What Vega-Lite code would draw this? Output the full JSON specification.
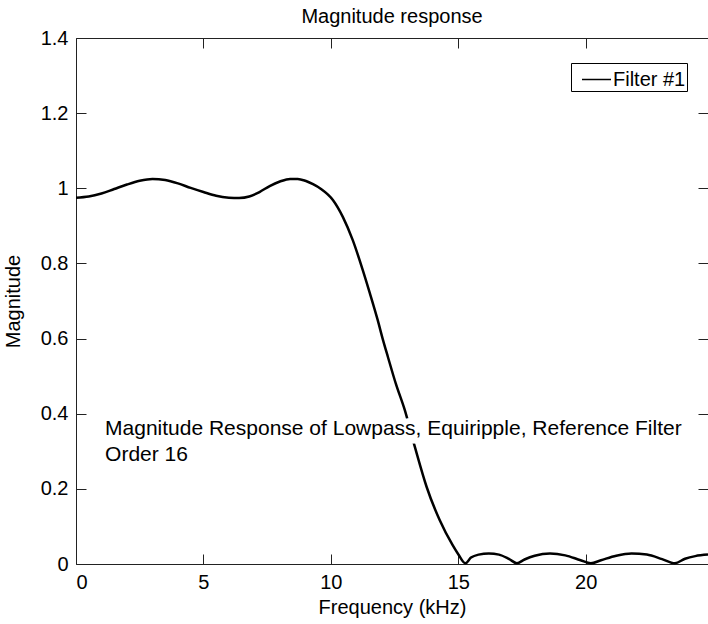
{
  "$schema": "https://vega.github.io/schema/vega-lite/v6.json",
  "width": 632,
  "height": 526,
  "autosize": {"type": "none"},
  "padding": {"left": 76, "top": 38, "right": 0, "bottom": 60},
  "background": "white",
  "config": {
    "font": "Liberation Sans",
    "view": {"stroke": null},
    "axis": {
      "grid": false,
      "domainColor": "#222222",
      "tickColor": "#222222",
      "domainWidth": 1,
      "tickWidth": 1,
      "tickSize": -10,
      "labelColor": "black",
      "labelFontSize": 20,
      "titleFontSize": 20,
      "titleFontWeight": "normal",
      "titleColor": "black"
    }
  },
  "title": {"text": "Magnitude response", "fontSize": 20, "fontWeight": "normal", "color": "black", "offset": 1, "anchor": "middle"},
  "datasets": {
    "response": [
      {"f": 0, "mag": 0.975}, {"f": 0.5, "mag": 0.978}, {"f": 1.0, "mag": 0.986}, {"f": 1.5, "mag": 0.998},
      {"f": 2.0, "mag": 1.010}, {"f": 2.5, "mag": 1.020}, {"f": 3.0, "mag": 1.025}, {"f": 3.5, "mag": 1.022},
      {"f": 4.0, "mag": 1.013}, {"f": 4.5, "mag": 1.001}, {"f": 5.0, "mag": 0.990}, {"f": 5.5, "mag": 0.980},
      {"f": 6.0, "mag": 0.975}, {"f": 6.4, "mag": 0.974}, {"f": 6.8, "mag": 0.978}, {"f": 7.2, "mag": 0.990},
      {"f": 7.6, "mag": 1.006}, {"f": 8.0, "mag": 1.018}, {"f": 8.4, "mag": 1.025}, {"f": 8.7, "mag": 1.025},
      {"f": 9.0, "mag": 1.020}, {"f": 9.3, "mag": 1.011}, {"f": 9.6, "mag": 0.999}, {"f": 10.08, "mag": 0.969},
      {"f": 10.47, "mag": 0.924}, {"f": 10.86, "mag": 0.862}, {"f": 11.25, "mag": 0.783}, {"f": 11.53, "mag": 0.721},
      {"f": 11.84, "mag": 0.649}, {"f": 12.04, "mag": 0.598}, {"f": 12.24, "mag": 0.551}, {"f": 12.55, "mag": 0.48},
      {"f": 12.9, "mag": 0.41}, {"f": 13.3, "mag": 0.311}, {"f": 13.76, "mag": 0.205}, {"f": 14.27, "mag": 0.117},
      {"f": 14.78, "mag": 0.05}, {"f": 15.0, "mag": 0.026}, {"f": 15.28, "mag": 0.002},
      {"f": 15.5, "mag": 0.017}, {"f": 15.8, "mag": 0.025}, {"f": 16.2, "mag": 0.028}, {"f": 16.6, "mag": 0.025},
      {"f": 17.0, "mag": 0.013}, {"f": 17.3, "mag": 0.002}, {"f": 17.6, "mag": 0.012}, {"f": 18.0, "mag": 0.022},
      {"f": 18.6, "mag": 0.028}, {"f": 19.2, "mag": 0.023}, {"f": 19.8, "mag": 0.01}, {"f": 20.2, "mag": 0.002},
      {"f": 20.6, "mag": 0.01}, {"f": 21.2, "mag": 0.022}, {"f": 21.8, "mag": 0.028}, {"f": 22.4, "mag": 0.025},
      {"f": 23.0, "mag": 0.013}, {"f": 23.5, "mag": 0.002}, {"f": 23.9, "mag": 0.014}, {"f": 24.3, "mag": 0.021},
      {"f": 24.8, "mag": 0.025}
    ],
    "note": [
      {"f": 1.14, "mag": 0.343, "label": "Magnitude Response of Lowpass, Equiripple, Reference Filter\nOrder 16"}
    ]
  },
  "layer": [
    {
      "data": {"name": "response"},
      "mark": {"type": "line", "strokeWidth": 2.5, "interpolate": "monotone"},
      "encoding": {
        "x": {
          "field": "f", "type": "quantitative",
          "scale": {"domain": [0, 24.8], "nice": false, "zero": false},
          "axis": {"orient": "bottom", "values": [0, 5, 10, 15, 20], "title": "Frequency (kHz)", "labelPadding": 18, "titlePadding": 5}
        },
        "y": {
          "field": "mag", "type": "quantitative",
          "scale": {"domain": [0, 1.4], "nice": false},
          "axis": {"orient": "left", "values": [0, 0.2, 0.4, 0.6, 0.8, 1, 1.2, 1.4], "format": "~g", "title": "Magnitude", "labelPadding": 18, "titlePadding": 17}
        },
        "color": {
          "datum": "Filter #1", "type": "nominal",
          "scale": {"range": ["black"]},
          "legend": {
            "title": null, "orient": "none", "legendX": 495, "legendY": 25,
            "strokeColor": "black", "padding": 1, "symbolType": "stroke",
            "symbolSize": 841, "symbolStrokeWidth": 1.5, "symbolOffset": 9, "labelFontSize": 20,
            "labelColor": "black", "labelOffset": 1
          }
        }
      }
    },
    {
      "data": {"name": "note"},
      "mark": {"type": "text", "align": "left", "baseline": "alphabetic", "fontSize": 21, "lineBreak": "\n", "lineHeight": 26, "fill": "white", "stroke": "white", "strokeWidth": 12},
      "encoding": {
        "x": {"field": "f", "type": "quantitative", "axis": {"orient": "top", "values": [0, 5, 10, 15, 20], "labels": false, "title": null}},
        "y": {"field": "mag", "type": "quantitative", "axis": {"orient": "right", "values": [0, 0.2, 0.4, 0.6, 0.8, 1, 1.2, 1.4], "labels": false, "title": null}},
        "text": {"field": "label"}
      }
    },
    {
      "data": {"name": "note"},
      "mark": {"type": "text", "align": "left", "baseline": "alphabetic", "fontSize": 21, "lineBreak": "\n", "lineHeight": 26, "fill": "black"},
      "encoding": {
        "x": {"field": "f", "type": "quantitative", "axis": null},
        "y": {"field": "mag", "type": "quantitative", "axis": null},
        "text": {"field": "label"}
      }
    }
  ],
  "resolve": {"axis": {"x": "independent", "y": "independent"}}
}
